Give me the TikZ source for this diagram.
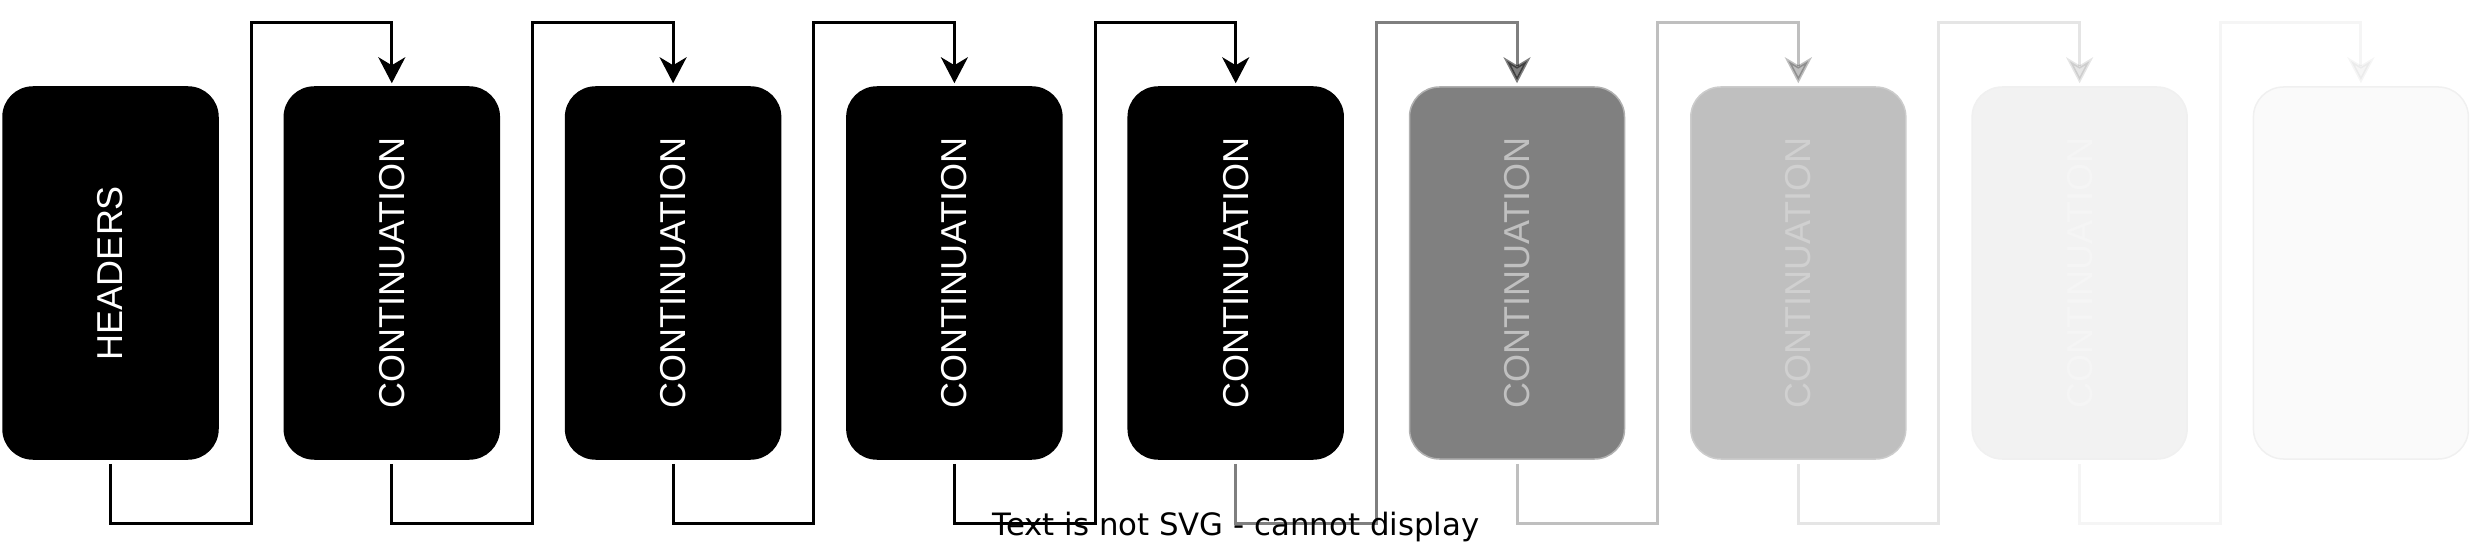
\documentclass[tikz,border=0pt]{standalone}
\usepackage{fontspec}
\usepackage{tikz}
\usetikzlibrary{arrows.meta,positioning}
\newfontfamily\boxfont{Liberation Sans}
\newfontfamily\notefont{DejaVu Sans}
\definecolor{fadegray}{RGB}{128,128,128}
\definecolor{fadesilver}{RGB}{191,191,191}
\definecolor{fadepale}{RGB}{242,242,242}
\definecolor{fadefaint}{RGB}{250,250,250}
\definecolor{edgegray}{RGB}{176,176,176}
\definecolor{edgesilver}{RGB}{204,204,204}
\definecolor{edgepale}{RGB}{240,240,240}
\definecolor{textgray}{RGB}{192,192,192}
\definecolor{textsilver}{RGB}{208,208,208}
\definecolor{textpale}{RGB}{245,245,245}
\tikzstyle{block} = [rounded corners=15pt, minimum width=107.5pt, minimum height=186pt, inner sep=0pt, line width=0.75pt, font=\boxfont\fontsize{18}{18}\selectfont]
\tikzstyle{link} = [line width=1.5pt, -{Stealth[length=13pt,width=13.5pt,inset=4pt]}]

\begin{document}
\begin{tikzpicture}[x=0.5pt, y=-0.5pt]
\useasboundingbox (0,0) rectangle (2472,550);

% First block
\node[block, fill=black, draw=black, text=white] (b0) at (110.5,273) {\rotatebox{90}{HEADERS}};

% Continuation blocks, fading out to the right
\foreach \i/\fc/\bc/\tc in {1/black/black/white, 2/black/black/white, 3/black/black/white, 4/black/black/white, 5/fadegray/edgegray/textgray, 6/fadesilver/edgesilver/textsilver, 7/fadepale/edgepale/textpale} {
    \node[block, fill=\fc, draw=\bc, text=\tc] (b\i) at ({110.5+281.3*\i},273) {\rotatebox{90}{CONTINUATION}};
}
\node[block, fill=fadefaint, draw=edgepale] (b8) at ({110.5+281.3*8},273) {};

% Links from block to block
\foreach \i/\j/\o in {0/1/1, 1/2/1, 2/3/1, 3/4/1, 4/5/0.5, 5/6/0.25, 6/7/0.1, 7/8/0.04} {
    \draw[link, opacity=\o] ([yshift=-2pt]b\i.south) -- ++(0,-30pt) -- ++(70.3pt,0) |- ([yshift=32pt]b\j.north) -- ([yshift=1.5pt]b\j.north);
}

% Fallback text
\node[font=\notefont\fontsize{15.4}{18}\selectfont, anchor=base, inner sep=0pt] (note) at (1236,535) {Text is not SVG - cannot display};
\end{tikzpicture}
\end{document}
